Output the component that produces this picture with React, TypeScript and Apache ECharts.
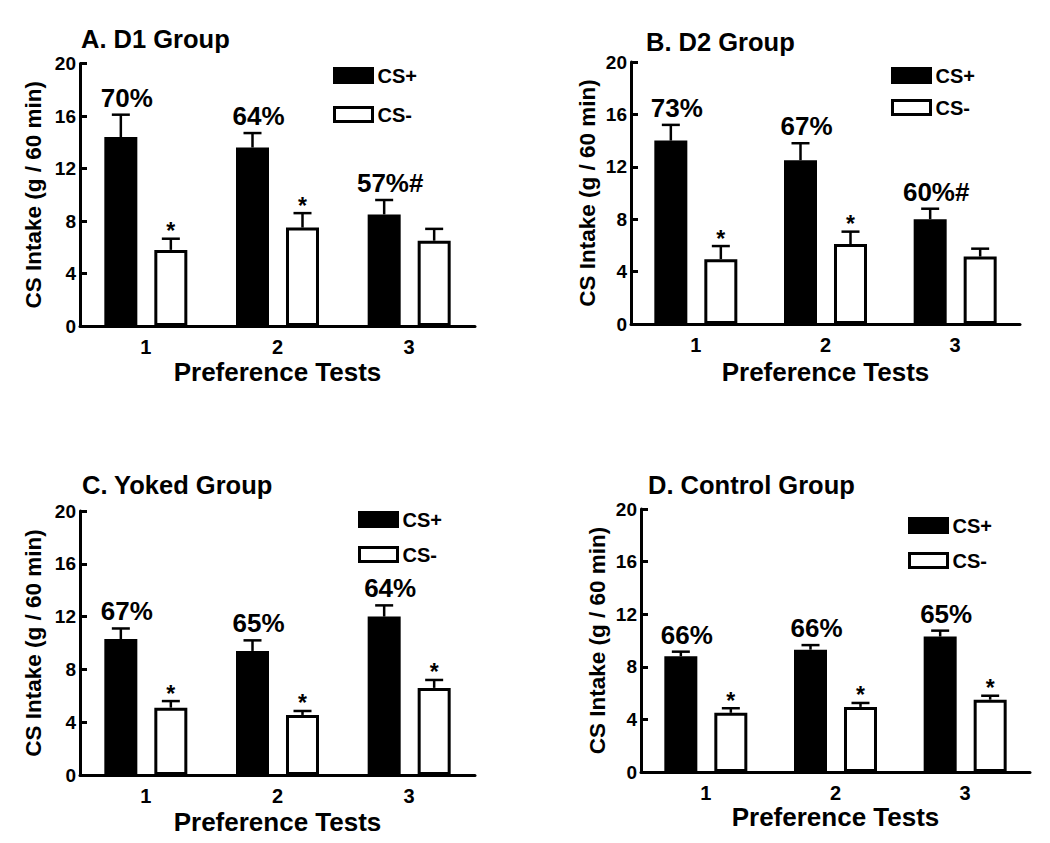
import React, { useEffect, useRef } from "react";
import * as echarts from "echarts";

// ---- data ----
const categories = ["1", "2", "3"];
const seriesNames = ["CS+", "CS-"];
const panelTitles = ["A. D1 Group", "B. D2 Group", "C. Yoked Group", "D. Control Group"];
const yName = "CS Intake (g / 60 min)";
const xName = "Preference Tests";

const d1CsPlus = [14.4, 13.6, 8.5];
const d1CsPlusSem = [1.7, 1.1, 1.1];
const d1CsMinus = [5.8, 7.5, 6.5];
const d1CsMinusSem = [0.85, 1.1, 0.9];
const d1Percent = ["70%", "64%", "57%#"];
const d1Star = [true, true, false];

const d2CsPlus = [14.0, 12.5, 8.0];
const d2CsPlusSem = [1.2, 1.3, 0.8];
const d2CsMinus = [4.95, 6.1, 5.15];
const d2CsMinusSem = [1.0, 0.95, 0.6];
const d2Percent = ["73%", "67%", "60%#"];
const d2Star = [true, true, false];

const yokedCsPlus = [10.3, 9.4, 12.0];
const yokedCsPlusSem = [0.8, 0.8, 0.85];
const yokedCsMinus = [5.1, 4.55, 6.6];
const yokedCsMinusSem = [0.5, 0.3, 0.6];
const yokedPercent = ["67%", "65%", "64%"];
const yokedStar = [true, true, true];

const controlCsPlus = [8.8, 9.3, 10.3];
const controlCsPlusSem = [0.35, 0.35, 0.45];
const controlCsMinus = [4.5, 4.95, 5.5];
const controlCsMinusSem = [0.35, 0.3, 0.3];
const controlPercent = ["66%", "66%", "65%"];
const controlStar = [true, true, true];

const panels = [
  { plus: d1CsPlus, plusSem: d1CsPlusSem, minus: d1CsMinus, minusSem: d1CsMinusSem, pct: d1Percent, star: d1Star },
  { plus: d2CsPlus, plusSem: d2CsPlusSem, minus: d2CsMinus, minusSem: d2CsMinusSem, pct: d2Percent, star: d2Star },
  { plus: yokedCsPlus, plusSem: yokedCsPlusSem, minus: yokedCsMinus, minusSem: yokedCsMinusSem, pct: yokedPercent, star: yokedStar },
  { plus: controlCsPlus, plusSem: controlCsPlusSem, minus: controlCsMinus, minusSem: controlCsMinusSem, pct: controlPercent, star: controlStar },
];

// ---- layout ----
const FONT = "'Liberation Sans', Arial, sans-serif";
const grids = [
  { left: 80, top: 63.5, width: 395, height: 262.5 },
  { left: 631, top: 62, width: 389, height: 262 },
  { left: 80, top: 511, width: 395, height: 264 },
  { left: 641, top: 509, width: 389, height: 263 },
];
const titlePos = [
  { left: 81, top: 26 },
  { left: 646, top: 29 },
  { left: 82, top: 472 },
  { left: 648, top: 472 },
];
const legendPos = [
  { left: 333, top: 65.5, itemGap: 19 },
  { left: 891, top: 65.5, itemGap: 12 },
  { left: 358, top: 509.5, itemGap: 15 },
  { left: 908, top: 515.5, itemGap: 15 },
];
const yNameGap = [35, 32.5, 35, 32.5];
const xNameGap = [33, 35, 34, 32];
const BAR_W = 33;
const BAR_OFFSET = 25;

function makeRender(pct: string[], star: boolean[]) {
  return (params: any, api: any) => {
    const cat = api.value(0);
    const mean = api.value(1);
    const sem = api.value(2);
    const kind = api.value(3);
    const base = api.coord([cat, mean]);
    const top = api.coord([cat, mean + sem]);
    const x = base[0] + (kind === 0 ? -BAR_OFFSET : BAR_OFFSET);
    const children: any[] = [
      { type: "line", shape: { x1: x, y1: base[1], x2: x, y2: top[1] }, style: { stroke: "#000", lineWidth: 2.5 } },
      { type: "line", shape: { x1: x - 9, y1: top[1], x2: x + 9, y2: top[1] }, style: { stroke: "#000", lineWidth: 2.5 } },
    ];
    if (kind === 0) {
      children.push({
        type: "text",
        x: x + 6,
        y: top[1] - 17,
        style: { text: pct[cat], fontSize: 26, fontWeight: "bold", fontFamily: FONT, fill: "#000", align: "center", verticalAlign: "middle" },
      });
    } else if (star[cat]) {
      children.push({
        type: "text",
        x: x,
        y: top[1] - 7.5,
        style: { text: "*", fontSize: 23, fontWeight: "bold", fontFamily: FONT, fill: "#000", align: "center", verticalAlign: "middle" },
      });
    }
    return { type: "group", children };
  };
}

function buildOption() {
  const title: any[] = [];
  const legend: any[] = [];
  const grid: any[] = [];
  const xAxis: any[] = [];
  const yAxis: any[] = [];
  const series: any[] = [];

  panels.forEach((p, i) => {
    title.push({
      text: panelTitles[i],
      left: titlePos[i].left,
      top: titlePos[i].top,
      padding: 0,
      textStyle: { fontSize: 25.5, fontWeight: "bold", color: "#000", fontFamily: FONT },
    });
    legend.push({
      data: seriesNames,
      orient: "vertical",
      left: legendPos[i].left,
      top: legendPos[i].top,
      itemGap: legendPos[i].itemGap,
      itemWidth: 38,
      itemHeight: 14,
      icon: "rect",
      padding: 0,
      selectedMode: false,
      itemStyle: { borderWidth: 3, borderColor: "#000" },
      textStyle: { fontSize: 20, fontWeight: "bold", color: "#000", fontFamily: FONT },
    });
    grid.push({ ...grids[i], containLabel: false });
    xAxis.push({
      type: "category",
      gridIndex: i,
      data: categories,
      name: xName,
      nameLocation: "middle",
      nameGap: xNameGap[i],
      nameTextStyle: { fontSize: 26, fontWeight: "bold", color: "#000", fontFamily: FONT },
      axisLine: { lineStyle: { color: "#000", width: 3 } },
      axisTick: { show: false },
      axisLabel: { fontSize: 20, fontWeight: "bold", color: "#000", fontFamily: FONT, margin: 11 },
      splitLine: { show: false },
    });
    yAxis.push({
      type: "value",
      gridIndex: i,
      min: 0,
      max: 20,
      interval: 4,
      name: yName,
      nameLocation: "middle",
      nameRotate: 90,
      nameGap: yNameGap[i],
      nameTextStyle: { fontSize: 22.5, fontWeight: "bold", color: "#000", fontFamily: FONT },
      axisLine: { show: true, lineStyle: { color: "#000", width: 3 } },
      axisTick: { show: true, inside: true, length: 7, lineStyle: { color: "#000", width: 3 } },
      axisLabel: { fontSize: 19, fontWeight: "bold", color: "#000", fontFamily: FONT, margin: 4 },
      splitLine: { show: false },
    });
    series.push({
      type: "bar",
      name: seriesNames[0],
      xAxisIndex: i,
      yAxisIndex: i,
      data: p.plus,
      barWidth: BAR_W,
      barGap: "51.5%",
      itemStyle: { color: "#000", borderColor: "#000", borderWidth: 3 },
      z: 2,
    });
    series.push({
      type: "bar",
      name: seriesNames[1],
      xAxisIndex: i,
      yAxisIndex: i,
      data: p.minus,
      barWidth: BAR_W,
      barGap: "51.5%",
      itemStyle: { color: "#fff", borderColor: "#000", borderWidth: 3 },
      z: 2,
    });
    const errData: number[][] = [];
    p.plus.forEach((v, k) => errData.push([k, v, p.plusSem[k], 0]));
    p.minus.forEach((v, k) => errData.push([k, v, p.minusSem[k], 1]));
    series.push({
      type: "custom",
      xAxisIndex: i,
      yAxisIndex: i,
      data: errData,
      clip: false,
      z: 5,
      silent: true,
      encode: { x: 0, y: 1 },
      renderItem: makeRender(p.pct, p.star),
    });
  });

  return {
    animation: false,
    backgroundColor: "#fff",
    textStyle: { fontFamily: FONT },
    title,
    legend,
    grid,
    xAxis,
    yAxis,
    series,
  };
}

export default function App() {
  const ref = useRef<HTMLDivElement>(null);
  useEffect(() => {
    if (!ref.current) return;
    const chart = echarts.init(ref.current, undefined, { renderer: "svg" });
    chart.setOption(buildOption() as any);
    return () => chart.dispose();
  }, []);
  return (
    <div
      ref={ref}
      style={{ position: "absolute", left: 0, top: 0, width: 1050, height: 843, background: "#fff" }}
    />
  );
}
